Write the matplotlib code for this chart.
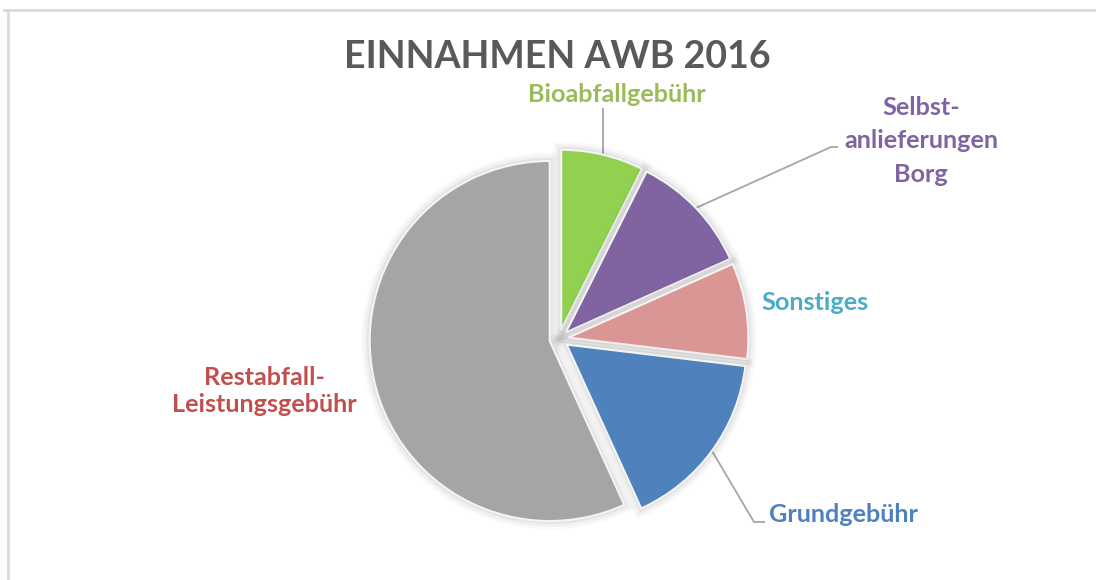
import numpy as np
import matplotlib
matplotlib.use('Agg')
import matplotlib.pyplot as plt
import matplotlib.patheffects as pe

# ---- data (clockwise from 12 o'clock) ----
categories = ['Bioabfallgebühr', 'Selbst-\nanlieferungen\nBorg', 'Sonstiges',
              'Grundgebühr', 'Restabfall-\nLeistungsgebühr']
shares = [7.4, 10.9, 8.6, 16.3, 56.8]
slice_colors = ['#92D050', '#8064A2', '#D99694', '#4F81BD', '#A5A5A5']
label_colors = ['#9BBB59', '#8064A2', '#4BACC6', '#4F81BD', '#C0504D']
title = 'EINNAHMEN AWB 2016'

W, H = 1096, 580
FONT = ['Lato', 'DejaVu Sans']

fig = plt.figure(figsize=(W / 100, H / 100), dpi=100)
ax = fig.add_axes([0, 0, 1, 1])

def iy(y):
    """image-pixel y (top-down) -> axes y (bottom-up)"""
    return H - y

cx, cy, R = 559, iy(339), 180
halo = [pe.Stroke(linewidth=12, foreground='black', alpha=0.025),
        pe.Stroke(linewidth=8, foreground='black', alpha=0.035),
        pe.Stroke(linewidth=4, foreground='black', alpha=0.05),
        pe.Normal()]
wedges, _ = ax.pie(shares, colors=slice_colors, startangle=90, counterclock=False,
                   center=(cx, cy), radius=R, explode=[9.5] * len(shares),
                   wedgeprops=dict(edgecolor='#f4f4f4', linewidth=1.5))
for w in wedges:
    w.set_path_effects(halo)

ax.set_xlim(0, W)
ax.set_ylim(0, H)
ax.set_aspect('equal')
ax.axis('off')

def anchor(w):
    mid = np.deg2rad((w.theta1 + w.theta2) / 2)
    return (w.center[0] + w.r * np.cos(mid), w.center[1] + w.r * np.sin(mid))

line_kw = dict(color='#a6a6a6', lw=1.3, solid_capstyle='butt', zorder=0.5)

# Bio leader (vertical)
a0 = anchor(wedges[0])
ax.plot([a0[0], a0[0]], [a0[1], iy(108)], **line_kw)
# Selbst leader
a1 = anchor(wedges[1])
ax.plot([a1[0], 831, 838], [a1[1], iy(147), iy(147)], **line_kw)
# Grund leader
a3 = anchor(wedges[3])
ax.plot([a3[0], 754, 765], [a3[1], iy(522), iy(522)], **line_kw)

# labels
label_pos = [(617, 95, 1.2), (921, 141, 1.56), (815, 303, 1.2), (843, 514, 1.2), (264, 391, 1.17)]
for lab, col, (x, y, ls) in zip(categories, label_colors, label_pos):
    ax.text(x, iy(y), lab, ha='center', va='center', fontsize=18.2,
            fontweight='bold', color=col, family=FONT, linespacing=ls,
            multialignment='center')

ax.text(557, iy(57), title, ha='center', va='center', fontsize=27,
        fontweight='bold', color='#595959', family=FONT)

# chart frame (top and left edges visible)
ax.plot([4, W], [iy(10), iy(10)], color='#d9d9d9', lw=2, clip_on=False)
ax.plot([8, 8], [iy(10), 0], color='#d9d9d9', lw=2, clip_on=False)

fig.savefig('out.png', dpi=100, facecolor='white')
